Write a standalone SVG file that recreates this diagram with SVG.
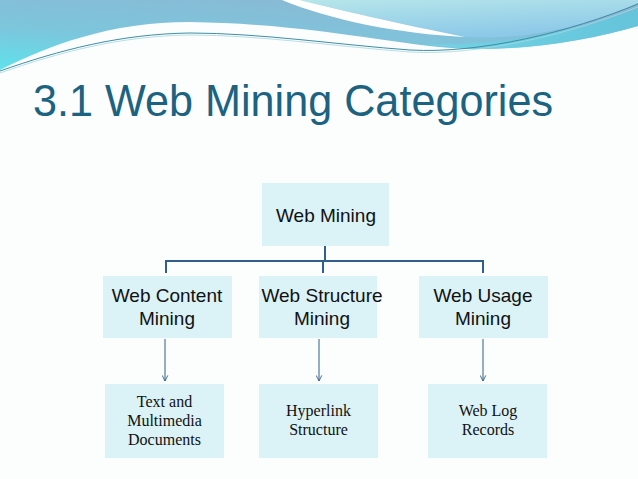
<svg xmlns="http://www.w3.org/2000/svg" width="638" height="479" viewBox="0 0 638 479">
  <defs>
    <linearGradient id="gBlue" x1="0" y1="1" x2="0.6" y2="0">
      <stop offset="0" stop-color="#5fe2ec"/>
      <stop offset="0.45" stop-color="#7cc6dc"/>
      <stop offset="1" stop-color="#8ab9d4"/>
    </linearGradient>
    <linearGradient id="gLight" x1="0" y1="0" x2="0.4" y2="1">
      <stop offset="0" stop-color="#b6e6ea"/>
      <stop offset="1" stop-color="#8cc8e8"/>
    </linearGradient>
    <linearGradient id="gBand" x1="0" y1="0" x2="1" y2="0">
      <stop offset="0" stop-color="#6fd8e6"/>
      <stop offset="1" stop-color="#5cc6dc"/>
    </linearGradient>
    <marker id="arr" viewBox="0 0 10 10" refX="9" refY="5" markerWidth="7" markerHeight="7" orient="auto" markerUnits="userSpaceOnUse">
      <path d="M1,1 L9,5 L1,9" fill="none" stroke="#2f5f8a" stroke-width="1.3"/>
    </marker>
    <style>
      .box { fill: #dbf2f7; }
      .lbl { font-family: "Liberation Sans", Arial, sans-serif; font-size: 19px; fill: #111; text-anchor: middle; }
      .sub { font-family: "Liberation Serif", "Times New Roman", serif; font-size: 16px; fill: #111; text-anchor: middle; }
      .tree { fill: none; stroke: #2f5f8a; stroke-width: 2; }
      .arrow { fill: none; stroke: #2f5f8a; stroke-width: 1; }
    </style>
  </defs>

  <!-- background -->
  <rect width="638" height="479" fill="#fcfdfd"/>
  <path d="M0,0 H638 V26 C590,40 530,50 470,49 C400,47 320,24 190,22 C110,22 50,45 0,70 Z" fill="url(#gBlue)"/>
  <path d="M420,44 C500,48 580,30 638,8 L638,26 C590,40 530,50 470,49 Z" fill="url(#gBand)" opacity="0.8"/>
  <path d="M300,0 C340,10 400,24 465,37 C540,41 600,20 638,3 V0 Z" fill="url(#gLight)"/>
  <path d="M282,0 H300 C340,10 400,24 465,37 C400,34 330,20 282,0 Z" fill="#ffffff"/>
  <path d="M0,71 C60,50 120,34 190,33 C260,33 340,45 410,50 C480,54 570,32 638,4" fill="none" stroke="#3d8ea6" stroke-width="1"/>
  <path d="M0,73 C60,52 120,36 190,35 C260,35 340,47 410,52 C480,56 570,34 638,7" fill="none" stroke="#a9d6df" stroke-width="0.8"/>

  <!-- title -->
  <text x="33" y="116" font-family="'Liberation Sans', Arial, sans-serif" font-size="44" fill="#1b6381" textLength="520" lengthAdjust="spacingAndGlyphs">3.1 Web Mining Categories</text>

  <!-- connectors -->
  <g id="connectors">
    <path class="tree" d="M325,246 V261 M166,261 H483 M166,260 V273 M323,261 V273 M483,260 V273"/>
    <line class="arrow" x1="165" y1="339" x2="165" y2="381" marker-end="url(#arr)"/>
    <line class="arrow" x1="319" y1="339" x2="319" y2="381" marker-end="url(#arr)"/>
    <line class="arrow" x1="483" y1="339" x2="483" y2="381" marker-end="url(#arr)"/>
  </g>

  <!-- nodes -->
  <g id="web-mining">
    <rect class="box" x="262" y="183" width="127" height="63"/>
    <text class="lbl" x="326" y="222">Web Mining</text>
  </g>
  <g id="web-content-mining">
    <rect class="box" x="103" y="276" width="129" height="62"/>
    <text class="lbl" x="167" y="302">Web Content</text>
    <text class="lbl" x="167" y="325">Mining</text>
  </g>
  <g id="web-structure-mining">
    <rect class="box" x="259" y="276" width="118" height="62"/>
    <text class="lbl" x="322" y="302">Web Structure</text>
    <text class="lbl" x="322" y="325">Mining</text>
  </g>
  <g id="web-usage-mining">
    <rect class="box" x="419" y="276" width="129" height="62"/>
    <text class="lbl" x="483" y="302">Web Usage</text>
    <text class="lbl" x="483" y="325">Mining</text>
  </g>
  <g id="text-multimedia">
    <rect class="box" x="105" y="384" width="119" height="74"/>
    <text class="sub" x="164.5" y="407">Text and</text>
    <text class="sub" x="164.5" y="426">Multimedia</text>
    <text class="sub" x="164.5" y="445">Documents</text>
  </g>
  <g id="hyperlink-structure">
    <rect class="box" x="259" y="384" width="119" height="74"/>
    <text class="sub" x="318.5" y="416">Hyperlink</text>
    <text class="sub" x="318.5" y="435">Structure</text>
  </g>
  <g id="web-log-records">
    <rect class="box" x="428" y="384" width="119" height="74"/>
    <text class="sub" x="488" y="416">Web Log</text>
    <text class="sub" x="488" y="435">Records</text>
  </g>
</svg>
